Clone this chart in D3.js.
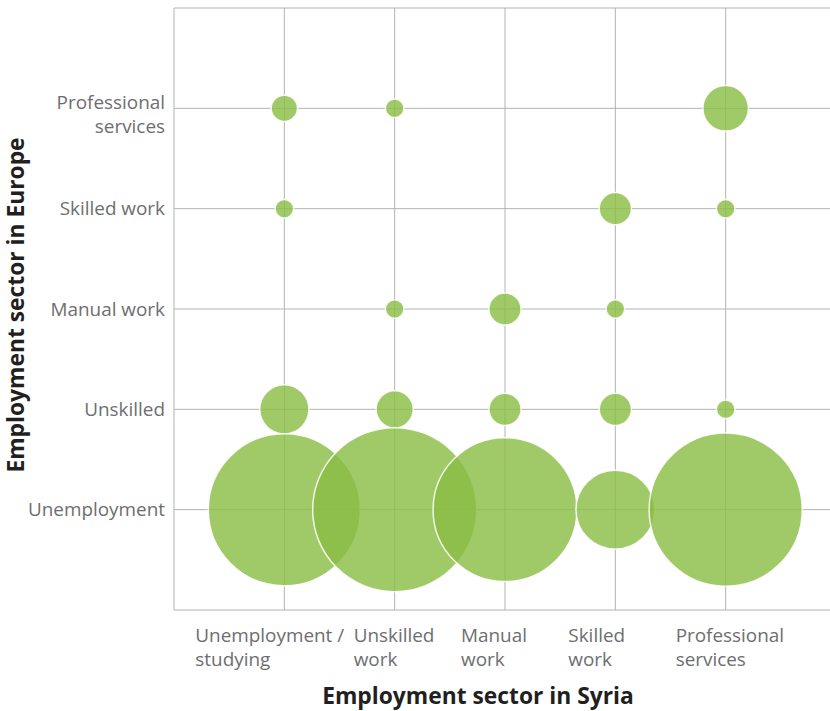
<!DOCTYPE html>
<html>
<head>
<meta charset="utf-8">
<script src="https://cdn.jsdelivr.net/npm/d3@7"></script>
<style>
    body { margin: 0; background: #fff; }
    svg { display: block; font-family: "Open Sans", sans-serif; }
    .grid line { stroke: #b3b3b3; stroke-width: 1; }
    .tick-label { fill: #6d6e71; font-size: 18.9px; }
    .axis-title { fill: #231f20; font-size: 22.8px; font-weight: bold; }
</style>
</head>
<body>
<svg id="chart"></svg>
<script>
var svg_w = 830;
var svg_h = 711;

// categories
var syriaSectors = ["Unemployment / studying", "Unskilled work", "Manual work", "Skilled work", "Professional services"];
var syriaLabels = [["Unemployment /", "studying"], ["Unskilled", "work"], ["Manual", "work"], ["Skilled", "work"], ["Professional", "services"]];
var europeSectors = ["Unemployment", "Unskilled", "Manual work", "Skilled work", "Professional services"];
var europeLabels = [["Unemployment"], ["Unskilled"], ["Manual work"], ["Skilled work"], ["Professional", "services"]];

// number of people, one array per sector in Europe, ordered by sector in Syria
var unemploymentEU = [67, 78, 60, 18, 68];
var unskilledEU = [7, 4, 3, 3, 1];
var manualEU = [0, 1, 3, 1, 0];
var skilledEU = [1, 0, 0, 3, 1];
var professionalEU = [2, 1, 0, 0, 6];

var rows = [unemploymentEU, unskilledEU, manualEU, skilledEU, professionalEU];

// label shifts so the x labels sit like the original
var xLabelShift = [-89, -41, -44, -47, -50];

var svg = d3.select('#chart')
    .attr('width', svg_w)
    .attr('height', svg_h);

var x = d3.scaleLinear().domain([-1, 5]).range([174, 836]);
var y = d3.scaleLinear().domain([-1, 5]).range([610, 8]);
var maxVal = d3.max(rows, (r) => d3.max(r));
var r = d3.scaleSqrt().domain([0, maxVal]).range([0, 82]);

// grid + frame
var grid = svg.append('g').attr('class', 'grid');
grid.selectAll('line.v')
    .data(syriaSectors)
    .enter().append('line')
    .attr('class', 'v')
    .attr('x1', (d, i) => x(i)).attr('x2', (d, i) => x(i))
    .attr('y1', y(5)).attr('y2', y(-1));
grid.selectAll('line.h')
    .data(europeSectors)
    .enter().append('line')
    .attr('class', 'h')
    .attr('x1', x(-1)).attr('x2', svg_w)
    .attr('y1', (d, i) => y(i)).attr('y2', (d, i) => y(i));
grid.append('line')
    .attr('x1', x(-1)).attr('x2', svg_w)
    .attr('y1', y(5)).attr('y2', y(5));
grid.append('line')
    .attr('x1', x(-1)).attr('x2', svg_w)
    .attr('y1', y(-1)).attr('y2', y(-1));
grid.append('line')
    .attr('x1', x(-1)).attr('x2', x(-1))
    .attr('y1', y(5)).attr('y2', y(-1));

// bubbles
var cells = [];
rows.forEach((row, ri) => {
    row.forEach((v, ci) => {
        if (v > 0) cells.push({ row: ri, col: ci, value: v });
    });
});
cells.sort((a, b) => a.col - b.col || b.row - a.row);

svg.append('g')
    .attr('id', 'bubbles')
    .selectAll('circle')
    .data(cells)
    .enter().append('circle')
    .attr('cx', (d) => x(d.col))
    .attr('cy', (d) => y(d.row))
    .attr('r', (d) => r(d.value))
    .attr('fill', '#8bbd45')
    .attr('fill-opacity', 0.82)
    .attr('stroke', '#ffffff')
    .attr('stroke-opacity', 0.85)
    .attr('stroke-width', 1.5);

// y tick labels
var yl = svg.append('g')
    .selectAll('text')
    .data(europeLabels)
    .enter().append('text')
    .attr('class', 'tick-label')
    .attr('text-anchor', 'end')
    .attr('x', 165)
    .attr('y', (d, i) => y(i) + (d.length > 1 ? 1 : 6.5));
yl.selectAll('tspan')
    .data((d) => d)
    .enter().append('tspan')
    .attr('x', 165)
    .attr('dy', (d, j) => j == 0 ? 0 : 23.5)
    .text((d) => d);

// x tick labels
var xl = svg.append('g')
    .selectAll('text')
    .data(syriaLabels)
    .enter().append('text')
    .attr('class', 'tick-label')
    .attr('x', (d, i) => x(i) + xLabelShift[i])
    .attr('y', 642);
xl.selectAll('tspan')
    .data((d, i) => d.map((t) => [t, i]))
    .enter().append('tspan')
    .attr('x', (d) => x(d[1]) + xLabelShift[d[1]])
    .attr('dy', (d, j) => j == 0 ? 0 : 24)
    .text((d) => d[0]);

// axis titles
svg.append('text')
    .attr('class', 'axis-title')
    .attr('text-anchor', 'middle')
    .attr('x', 478)
    .attr('y', 704)
    .text('Employment sector in Syria');
svg.append('text')
    .attr('class', 'axis-title')
    .attr('text-anchor', 'middle')
    .attr('transform', 'translate(24,305) rotate(-90)')
    .text('Employment sector in Europe');
</script>
</body>
</html>
